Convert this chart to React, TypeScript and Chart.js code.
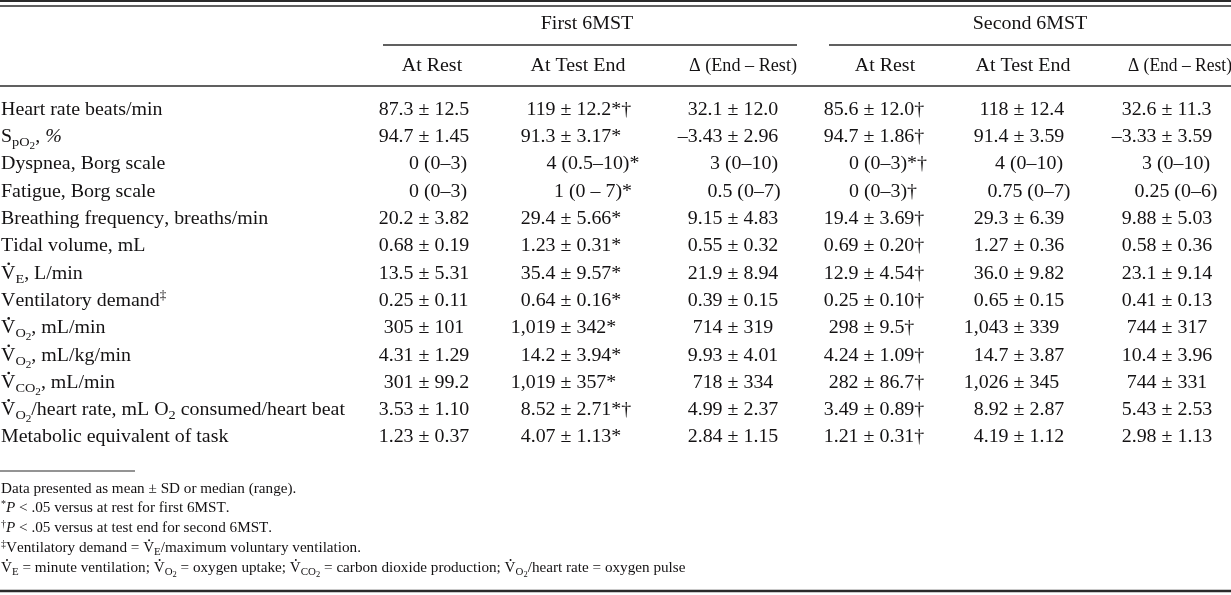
import React, { useEffect, useRef } from "react";
import { Chart, registerables } from "chart.js";

Chart.register(...registerables);

// ---------- content ----------
const groupTitles = ["First 6MST", "Second 6MST"];
const columnTitles = ["At Rest", "At Test End", "Δ (End – Rest)", "At Rest", "At Test End", "Δ (End – Rest)"];

// markup: _{..} subscript, ^{..} superscript, ~{..} italic, V\u0307 = V with dot
const rowLabels = [
  "Heart rate beats/min",
  "S_{pO_{2}}, ~{%}",
  "Dyspnea, Borg scale",
  "Fatigue, Borg scale",
  "Breathing frequency, breaths/min",
  "Tidal volume, mL",
  "V\u0307_{E}, L/min",
  "Ventilatory demand^{‡}",
  "V\u0307_{O_{2}}, mL/min",
  "V\u0307_{O_{2}}, mL/kg/min",
  "V\u0307_{CO_{2}}, mL/min",
  "V\u0307_{O_{2}}/heart rate, mL O_{2} consumed/heart beat",
  "Metabolic equivalent of task",
];

const firstRest = ["87.3 ± 12.5", "94.7 ± 1.45", "0 (0–3)", "0 (0–3)", "20.2 ± 3.82", "0.68 ± 0.19", "13.5 ± 5.31", "0.25 ± 0.11", "305 ± 101", "4.31 ± 1.29", "301 ± 99.2", "3.53 ± 1.10", "1.23 ± 0.37"];
const firstEnd = ["119 ± 12.2*†", "91.3 ± 3.17*", "4 (0.5–10)*", "1 (0 – 7)*", "29.4 ± 5.66*", "1.23 ± 0.31*", "35.4 ± 9.57*", "0.64 ± 0.16*", "1,019 ± 342*", "14.2 ± 3.94*", "1,019 ± 357*", "8.52 ± 2.71*†", "4.07 ± 1.13*"];
const firstDelta = ["32.1 ± 12.0", "–3.43 ± 2.96", "3 (0–10)", "0.5 (0–7)", "9.15 ± 4.83", "0.55 ± 0.32", "21.9 ± 8.94", "0.39 ± 0.15", "714 ± 319", "9.93 ± 4.01", "718 ± 334", "4.99 ± 2.37", "2.84 ± 1.15"];
const secondRest = ["85.6 ± 12.0†", "94.7 ± 1.86†", "0 (0–3)*†", "0 (0–3)†", "19.4 ± 3.69†", "0.69 ± 0.20†", "12.9 ± 4.54†", "0.25 ± 0.10†", "298 ± 9.5†", "4.24 ± 1.09†", "282 ± 86.7†", "3.49 ± 0.89†", "1.21 ± 0.31†"];
const secondEnd = ["118 ± 12.4", "91.4 ± 3.59", "4 (0–10)", "0.75 (0–7)", "29.3 ± 6.39", "1.27 ± 0.36", "36.0 ± 9.82", "0.65 ± 0.15", "1,043 ± 339", "14.7 ± 3.87", "1,026 ± 345", "8.92 ± 2.87", "4.19 ± 1.12"];
const secondDelta = ["32.6 ± 11.3", "–3.33 ± 3.59", "3 (0–10)", "0.25 (0–6)", "9.88 ± 5.03", "0.58 ± 0.36", "23.1 ± 9.14", "0.41 ± 0.13", "744 ± 317", "10.4 ± 3.96", "744 ± 331", "5.43 ± 2.53", "2.98 ± 1.13"];

const footnotes = [
  "Data presented as mean ± SD or median (range).",
  "^{*}~{P} < .05 versus at rest for first 6MST.",
  "^{†}~{P} < .05 versus at test end for second 6MST.",
  "^{‡}Ventilatory demand = V\u0307_{E}/maximum voluntary ventilation.",
  "V\u0307_{E} = minute ventilation; V\u0307_{O_{2}} = oxygen uptake; V\u0307_{CO_{2}} = carbon dioxide production; V\u0307_{O_{2}}/heart rate = oxygen pulse",
];

// ---------- layout / style ----------
const W = 1231;
const H = 595;
const FONT = '"Liberation Serif", "Times New Roman", serif';
const INK = "#141213";
const BODY = 18.5;
const FOOT = 14.1;
const SX = 1.077; // horizontal stretch of the typeset text
const headerCenters = [432, 578, 743, 885, 1023, 1180];
const headerMaxW = [0, 0, 108, 0, 0, 104];
const pmCenters = [424, 566, 733, 869, 1019, 1167];
const rangeCenters = [438, 588, 744, 878, 1029, 1176];
const groupCenters = [587, 1030];
const groupRules = [[383, 797], [829, 1231]];
const LAYOUT = {
  top1: 1, top2: 6, groupY: 23, groupRuleY: 45, headY: 65, headRuleY: 86,
  rowsTop: 95, rowsBottom: 450, footRuleY: 471, footRuleX: 135,
  footY0: 488, footStep: 19.8, bottomY: 591, labelX: 1,
};

type Seg = { t: string; lvl: number; sup: boolean; it: boolean };

function parse(s: string, lvl = 0, sup = false, it = false, out: Seg[] = []): Seg[] {
  let i = 0;
  let buf = "";
  const flush = () => {
    if (buf) out.push({ t: buf, lvl, sup, it });
    buf = "";
  };
  while (i < s.length) {
    const c = s[i];
    if ((c === "_" || c === "^" || c === "~") && s[i + 1] === "{") {
      flush();
      let depth = 0;
      let j = i + 1;
      for (; j < s.length; j++) {
        if (s[j] === "{") depth++;
        else if (s[j] === "}") {
          depth--;
          if (depth === 0) break;
        }
      }
      const inner = s.slice(i + 2, j);
      if (c === "_") parse(inner, lvl + 1, sup, it, out);
      else if (c === "^") parse(inner, lvl, true, it, out);
      else parse(inner, lvl, sup, true, out);
      i = j + 1;
    } else {
      buf += c;
      i++;
    }
  }
  flush();
  return out;
}

function segStyle(seg: Seg, base: number) {
  let size = base;
  let dy = 0;
  if (seg.lvl === 1) {
    size = base * 0.72;
    dy = base * 0.22;
  } else if (seg.lvl >= 2) {
    size = base * 0.56;
    dy = base * 0.38;
  }
  if (seg.sup) {
    size = base * 0.66;
    dy = -base * 0.36;
  }
  const font = `${seg.it ? "italic " : ""}${size}px ${FONT}`;
  return { size, dy, font };
}

function drawRich(ctx: CanvasRenderingContext2D, markup: string, x: number, baseline: number, base: number) {
  const segs = parse(markup);
  let cx = x;
  for (const seg of segs) {
    const { size, dy, font } = segStyle(seg, base);
    ctx.font = font;
    const chars = Array.from(seg.t);
    for (let k = 0; k < chars.length; k++) {
      const ch = chars[k];
      if (ch === "\u0307") continue;
      const w = ctx.measureText(ch).width * SX;
      ctx.save();
      ctx.translate(cx, baseline + dy);
      ctx.scale(SX, 1);
      ctx.fillText(ch, 0, 0);
      ctx.restore();
      if (chars[k + 1] === "\u0307") {
        ctx.beginPath();
        ctx.arc(cx + w / 2 + 0.5, baseline + dy - size * 0.66 - 2.6, size * 0.07, 0, Math.PI * 2);
        ctx.fill();
      }
      cx += w;
    }
  }
  return cx - x;
}

function drawPlain(ctx: CanvasRenderingContext2D, text: string, x: number, baseline: number, base: number, align: "left" | "center", maxW = 0) {
  ctx.font = `${base}px ${FONT}`;
  let w = ctx.measureText(text).width * SX;
  if (maxW && w > maxW) w = maxW;
  const x0 = align === "center" ? x - w / 2 : x;
  ctx.save();
  ctx.translate(x0, baseline);
  ctx.scale(SX, 1);
  if (maxW) ctx.fillText(text, 0, 0, maxW / SX);
  else ctx.fillText(text, 0, 0);
  ctx.restore();
}

function hline(ctx: CanvasRenderingContext2D, x1: number, x2: number, y: number, lw: number) {
  ctx.beginPath();
  ctx.lineWidth = lw;
  ctx.moveTo(x1, y);
  ctx.lineTo(x2, y);
  ctx.stroke();
}

const tablePlugin = {
  id: "tableText",
  beforeDraw(chart: any) {
    const ctx = chart.ctx as CanvasRenderingContext2D;
    ctx.save();
    ctx.fillStyle = "#fff";
    ctx.fillRect(0, 0, chart.width, chart.height);
    ctx.restore();
  },
  afterDraw(chart: any) {
    const ctx = chart.ctx as CanvasRenderingContext2D;
    const xs = chart.scales.x;
    const ys = chart.scales.y;
    const px = (v: number) => xs.getPixelForValue(v);
    const cap = BODY * 0.33;
    ctx.save();
    ctx.fillStyle = INK;
    ctx.strokeStyle = "#2b2b2b";
    ctx.textBaseline = "alphabetic";
    ctx.textAlign = "left";

    // rules
    hline(ctx, px(0), px(W), LAYOUT.top1, 2);
    hline(ctx, px(0), px(W), LAYOUT.top2, 1.3);
    groupRules.forEach(([a, b]) => hline(ctx, px(a), px(b), LAYOUT.groupRuleY, 1.4));
    hline(ctx, px(0), px(W), LAYOUT.headRuleY, 1.6);
    hline(ctx, px(0), px(LAYOUT.footRuleX), LAYOUT.footRuleY, 1.2);
    hline(ctx, px(0), px(W), LAYOUT.bottomY, 2.4);

    // headers
    groupTitles.forEach((t, i) => drawPlain(ctx, t, px(groupCenters[i]), LAYOUT.groupY + cap, BODY, "center"));
    columnTitles.forEach((t, i) => drawPlain(ctx, t, px(headerCenters[i]), LAYOUT.headY + cap, BODY, "center", headerMaxW[i]));

    // body
    const columns = [firstRest, firstEnd, firstDelta, secondRest, secondEnd, secondDelta];
    rowLabels.forEach((lab, r) => {
      const y = ys.getPixelForValue(r) + cap;
      drawRich(ctx, lab, px(LAYOUT.labelX), y, BODY);
      columns.forEach((col, c) => {
        const str = col[r];
        ctx.font = `${BODY}px ${FONT}`;
        const pm = str.indexOf("±");
        let x0: number;
        if (pm >= 0) {
          const pre = ctx.measureText(str.slice(0, pm)).width;
          const pmw = ctx.measureText("±").width;
          x0 = px(pmCenters[c]) - (pre + pmw / 2) * SX;
        } else {
          const bodyTxt = str.replace(/[*†‡]+$/, "");
          x0 = px(rangeCenters[c]) - (ctx.measureText(bodyTxt).width * SX) / 2;
        }
        drawPlain(ctx, str, x0, y, BODY, "left");
      });
    });

    // footnotes
    footnotes.forEach((f, i) => {
      drawRich(ctx, f, px(LAYOUT.labelX), LAYOUT.footY0 + i * LAYOUT.footStep + FOOT * 0.33, FOOT);
    });
    ctx.restore();
  },
};

export default function App() {
  const ref = useRef<HTMLCanvasElement | null>(null);
  useEffect(() => {
    if (!ref.current) return;
    const chart = new Chart(ref.current, {
      type: "scatter",
      data: { datasets: [] },
      options: {
        animation: false,
        responsive: true,
        maintainAspectRatio: false,
        events: [],
        layout: {
          padding: { top: LAYOUT.rowsTop, bottom: H - LAYOUT.rowsBottom, left: 0, right: 0 },
        },
        plugins: { legend: { display: false }, tooltip: { enabled: false } },
        scales: {
          x: { type: "linear", min: 0, max: W, display: false },
          y: { type: "category", labels: rowLabels.map((l) => l.replace(/[_^~{}\u0307]/g, "")), display: false, offset: true },
        },
      },
      plugins: [tablePlugin],
    } as any);
    return () => chart.destroy();
  }, []);
  return (
    <div style={{ position: "fixed", left: 0, top: 0, width: W, height: H, background: "#fff" }}>
      <canvas ref={ref} />
    </div>
  );
}
